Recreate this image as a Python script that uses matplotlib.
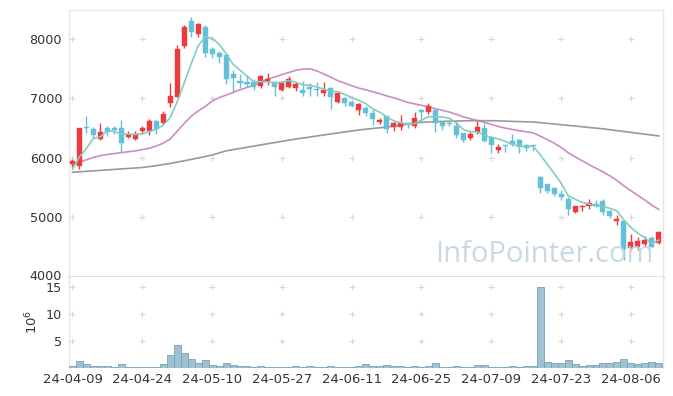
import matplotlib
matplotlib.use("Agg")
import matplotlib.pyplot as plt
import matplotlib.transforms as mtrans
import numpy as np

# ---- data ----
opens  = [5900,5870,6520,6480,6320,6510,6500,6500,6350,6320,6460,6460,6620,6590,6930,7030,7890,8300,8090,8200,
          7830,7770,7730,7410,7300,7270,7270,7210,7300,7270,7140,7200,7180,7140,7200,7160,7090,7180,6940,7010,
          6940,6800,6840,6760,6600,6700,6520,6520,6580,6530,6800,6770,6810,6600,6590,6530,6420,6340,6430,6510,
          6360,6140,6210,6290,6310,6220,6220,5680,5560,5500,5400,5310,5100,5180,5190,5220,5270,5110,4940,4940,
          4480,4500,4560,4660,4570]
highs  = [5980,6510,6700,6520,6590,6540,6530,6640,6460,6450,6540,6650,6640,6790,7260,7900,8240,8370,8270,8240,
          7860,7790,7760,7480,7410,7390,7320,7400,7420,7280,7300,7380,7280,7300,7260,7270,7270,7190,7110,7020,
          6960,6920,6870,6820,6680,6700,6610,6720,6600,6780,6830,6930,6830,6610,6630,6620,6420,6440,6630,6580,
          6370,6230,6220,6410,6320,6240,6220,5700,5570,5510,5460,5340,5200,5210,5310,5300,5310,5120,5045,4940,
          4720,4670,4690,4690,4780]
lows   = [5850,5810,6420,6330,6300,6370,6400,6100,6330,6300,6400,6390,6410,6560,6860,7020,7850,8030,8030,7700,
          7680,7600,7250,7100,7180,7200,7150,7180,7230,7050,7120,7180,7130,7040,7050,7050,7050,6830,6930,6880,
          6860,6720,6700,6550,6570,6420,6460,6470,6500,6510,6590,6740,6430,6470,6530,6330,6270,6300,6400,6270,
          6080,6090,6100,6200,6090,6120,6120,5410,5410,5360,5300,5040,5080,5110,5140,5180,5040,4990,4880,4290,
          4450,4460,4520,4510,4560]
closes = [5955,6500,6500,6390,6440,6440,6470,6260,6400,6410,6500,6630,6480,6740,7040,7830,8200,8110,8250,7760,
          7750,7690,7330,7350,7260,7250,7190,7370,7330,7190,7280,7330,7240,7100,7160,7140,7150,7030,7100,6920,
          6880,6910,6760,6660,6640,6490,6580,6590,6550,6680,6780,6870,6580,6540,6570,6390,6310,6400,6520,6290,
          6210,6180,6200,6240,6180,6160,6200,5500,5450,5400,5350,5140,5190,5200,5240,5200,5100,5030,4980,4470,
          4590,4610,4630,4510,4760]
volume_m = [0.2,1.25,0.6,0.3,0.3,0.3,0.15,0.6,0.1,0.1,0.1,0.1,0.1,0.6,2.3,4.2,2.7,1.55,0.85,1.35,
            0.45,0.25,0.85,0.5,0.3,0.3,0.15,0.3,0.1,0.15,0.1,0.1,0.3,0.1,0.3,0.15,0.1,0.3,0.1,0.1,
            0.15,0.3,0.7,0.3,0.3,0.45,0.3,0.3,0.1,0.3,0.15,0.3,0.85,0.1,0.1,0.3,0.1,0.1,0.5,0.5,
            0.1,0.1,0.1,0.3,0.1,0.3,0.3,15.0,1.05,0.75,0.85,1.35,0.7,0.3,0.5,0.5,0.85,0.75,1.1,1.55,
            0.85,0.6,0.85,1.05,0.85]
# moving-average values before enough history is visible
ma5_head  = [5810, 6020, 6160, 6330]
ma20_head = [5880,5930,5970,6010,6040,6060,6075,6090,6105,6120,6140,6165,6200,6250,6320,6450,6580,6700,6790]
# long moving average
ma_long = [5760,5768,5776,5784,5792,5800,5808,5816,5824,5832,5840,5855,5870,5890,5908,5930,5953,5976,6000,6025,
           6050,6085,6120,6140,6160,6180,6200,6220,6240,6260,6280,6300,6318,6335,6352,6370,6387,6404,6420,6437,
           6454,6470,6483,6495,6508,6520,6537,6553,6570,6585,6600,6605,6610,6615,6618,6621,6624,6626,6627,6627,
           6627,6623,6619,6615,6612,6608,6605,6594,6583,6571,6560,6548,6537,6525,6513,6502,6490,6475,6460,6445,
           6430,6415,6400,6385,6370]
tick_pos = [0, 10, 20, 30, 40, 50, 60, 70, 80]
tick_labels = ["24-04-09","24-04-24","24-05-10","24-05-27","24-06-11","24-06-25","24-07-09","24-07-23","24-08-06"]
price_ticks = [4000, 5000, 6000, 7000, 8000]
vol_ticks = [5, 10, 15]

# ---- derived ----
o = np.array(opens, float); h = np.array(highs, float)
l = np.array(lows, float); c = np.array(closes, float)
n = len(c)
x = np.arange(n)

def rolling(vals, w, head):
    out = list(head)
    for i in range(len(head), len(vals)):
        out.append(np.mean(vals[i-w+1:i+1]))
    return np.array(out)

ma5 = rolling(c, 5, ma5_head)
ma20 = rolling(c, 20, ma20_head)

RED = "#ee3a3e"
BLUE = "#64bfd8"
FS = 9.2

fig = plt.figure(figsize=(6.73, 3.96), dpi=100)
ax = fig.add_axes([69/673, 1-277/396, (663-69)/673, (277-10)/396])
axv = fig.add_axes([69/673, 1-367.5/396, (663-69)/673, (367.5-277)/396], sharex=ax)

up = c >= o
colors = np.where(up, RED, BLUE)
ax.vlines(x, l, h, colors=colors, linewidth=1.0, zorder=3)
body_bottom = np.minimum(o, c)
body_h = np.maximum(np.abs(c - o), 8)
ax.bar(x, body_h, bottom=body_bottom, width=0.72, color=colors, edgecolor=colors, linewidth=0.3, zorder=4)

ax.plot(x, ma5, color="#86cbbf", lw=1.2, zorder=5)
ax.plot(x, ma20, color="#cc8cc4", lw=1.2, zorder=2)
ax.plot(x, ma_long, color="#999999", lw=1.2, zorder=2)

ax.set_xlim(-0.5, 84.6)
ax.set_ylim(4000, 8487)
ax.set_yticks(price_ticks)
ax.set_yticklabels([str(v) for v in price_ticks])
ax.tick_params(axis="y", length=0, pad=5, labelsize=FS, labelcolor="#333333")
ax.tick_params(axis="x", length=0, labelbottom=False)
# nudge the bottom label up a little so it does not touch the volume labels
lab0 = ax.get_yticklabels()[0]
lab0.set_transform(lab0.get_transform() + mtrans.ScaledTranslation(0, 2.5/100, fig.dpi_scale_trans))

# "+" grid marks
gx, gy = np.meshgrid(tick_pos, price_ticks[1:])
ax.scatter(gx.ravel(), gy.ravel(), marker="+", s=22, color="#d8d8d8", linewidths=0.8, zorder=1)

for s in ax.spines.values():
    s.set_color("#e6e6e6"); s.set_linewidth(1.0)
ax.spines["bottom"].set_color("#dcdcdc"); ax.spines["bottom"].set_linewidth(2.0)

ax.text(0.985, 0.03, "InfoPointer.com", transform=ax.transAxes, ha="right", va="bottom",
        fontsize=21, color="#c3d5e0", family="Open Sans", zorder=6, alpha=0.9)

# volume
axv.bar(x, volume_m, width=1.0, color="#9fc1d2", edgecolor="#76a3b8", linewidth=0.6, zorder=3)
axv.set_ylim(0, 16.8)
axv.set_yticks(vol_ticks)
axv.set_yticklabels([str(v) for v in vol_ticks])
axv.tick_params(axis="y", length=0, pad=5, labelsize=FS, labelcolor="#333333")
axv.set_xticks(tick_pos)
axv.set_xticklabels(tick_labels)
axv.tick_params(axis="x", length=0, pad=4, labelsize=9.5, labelcolor="#333333")
gx2, gy2 = np.meshgrid(tick_pos, vol_ticks)
axv.scatter(gx2.ravel(), gy2.ravel(), marker="+", s=22, color="#d8d8d8", linewidths=0.8, zorder=1)
axv.set_ylabel("$10^6$", fontsize=9.5, color="#333333", labelpad=4)
for k, s in axv.spines.items():
    s.set_color("#e6e6e6"); s.set_linewidth(1.0)
axv.spines["top"].set_visible(False)
axv.spines["bottom"].set_visible(False)

fig.savefig("out.png", dpi=100)
